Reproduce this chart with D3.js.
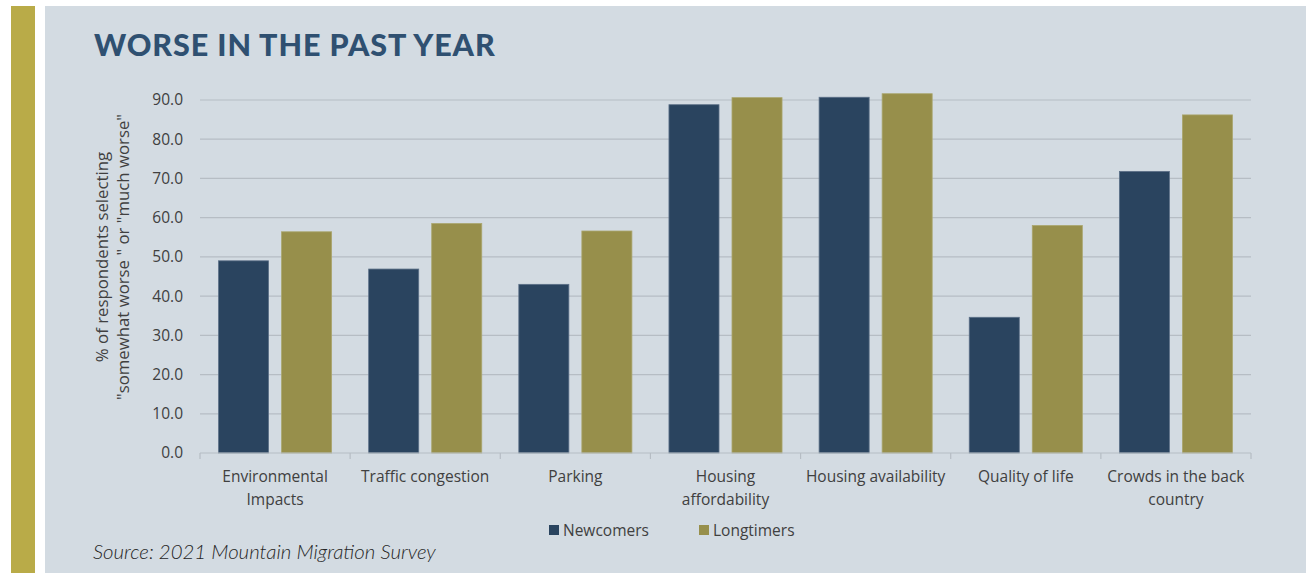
<!DOCTYPE html>
<html><head><meta charset="utf-8">
<script src="https://cdn.jsdelivr.net/npm/d3@7"></script>
<style>
html,body{margin:0;padding:0;background:#fff;}
svg{display:block;}
</style></head>
<body><svg id="chart" width="1306" height="573"></svg>
<script>
const categories = [["Environmental","Impacts"],["Traffic congestion"],["Parking"],["Housing","affordability"],["Housing availability"],["Quality of life"],["Crowds in the back","country"]];
const newcomers = [49.0, 46.9, 43.0, 88.8, 90.7, 34.6, 71.8];
const longtimers = [56.4, 58.5, 56.6, 90.6, 91.6, 58.0, 86.2];
const seriesNames = ["Newcomers","Longtimers"];
const yTicks = [0,10,20,30,40,50,60,70,80,90];
const colors = ["#2a445f","#978f4b"];

const svg = d3.select("#chart");
svg.append("rect").attr("x",11).attr("y",6).attr("width",24).attr("height",567).attr("fill","#b9ab48");
svg.append("rect").attr("x",45).attr("y",6).attr("width",1261).attr("height",567).attr("fill","#d3dbe2");

svg.append("text").attr("x",94).attr("y",56).text("WORSE IN THE PAST YEAR")
  .attr("font-family","Lato").attr("font-weight",900).attr("font-size",30.5).attr("fill","#2f5071").attr("letter-spacing","0.9");

const x0 = d3.scaleBand().domain(d3.range(categories.length)).range([200,1251]).paddingInner(0).paddingOuter(0);
const x1 = d3.scaleBand().domain([0,1]).range([0,x0.bandwidth()]).paddingInner(0.206).paddingOuter(0.294);
const y = d3.scaleLinear().domain([0,90]).range([453,100]);

// gridlines
svg.append("g").selectAll("line").data(yTicks.filter(d=>d>0)).join("line")
  .attr("x1",200).attr("x2",1251).attr("y1",d=>y(d)).attr("y2",d=>y(d))
  .attr("stroke","#b6bdc4").attr("stroke-width",1.2);

// y axis labels
const ya = svg.append("g").attr("transform","translate(200,0)")
  .call(d3.axisLeft(y).tickValues(yTicks).tickFormat(d3.format(".1f")).tickSize(0).tickPadding(17));
ya.select(".domain").remove();
ya.selectAll("text").attr("font-family","'Open Sans'").attr("font-size",15.5).attr("fill","#404040");

// bars
const data = [newcomers, longtimers];
const g = svg.append("g");
categories.forEach((c,i)=>{
  [0,1].forEach(s=>{
    g.append("rect").attr("x",x0(i)+x1(s)).attr("y",y(data[s][i]))
      .attr("width",x1.bandwidth()).attr("height",y(0)-y(data[s][i]))
      .attr("fill",colors[s]).attr("stroke",s===0?"#5c7088":"#aaa66e").attr("stroke-width",0.8);
  });
});

// x axis
const xa = svg.append("g").attr("transform","translate(0,453)");
xa.append("line").attr("x1",200).attr("x2",1251).attr("y1",0).attr("y2",0).attr("stroke","#b6bdc4").attr("stroke-width",1.2);
d3.range(categories.length+1).forEach(i=>{
  const xx = 200 + i*x0.bandwidth();
  xa.append("line").attr("x1",xx).attr("x2",xx).attr("y1",0).attr("y2",6).attr("stroke","#b6bdc4").attr("stroke-width",1.2);
});
categories.forEach((c,i)=>{
  const t = xa.append("text").attr("text-anchor","middle")
    .attr("font-family","'Open Sans'").attr("font-size",15.5).attr("fill","#404040");
  c.forEach((line,k)=>{
    t.append("tspan").attr("x",x0(i)+x0.bandwidth()/2).attr("y",29+k*22.5).text(line);
  });
});

// y axis title
const yt = svg.append("text").attr("transform","translate(108,257) rotate(-90)").attr("text-anchor","middle")
  .attr("font-family","'Open Sans'").attr("font-size",16.8).attr("fill","#404040");
yt.append("tspan").attr("x",0).attr("y",0).text("% of respondents selecting");
yt.append("tspan").attr("x",0).attr("y",21).text("\"somewhat worse \" or \"much worse\"");

// legend
const lx = [549, 699];
seriesNames.forEach((n,i)=>{
  svg.append("rect").attr("x",lx[i]).attr("y",525).attr("width",10).attr("height",10).attr("fill",colors[i]);
  svg.append("text").attr("x",lx[i]+14).attr("y",536).text(n)
    .attr("font-family","'Open Sans'").attr("font-size",15.5).attr("fill","#404040");
});

// source
svg.append("text").attr("x",93).attr("y",559).text("Source: 2021 Mountain Migration Survey")
  .attr("font-family","Lato").attr("font-style","italic").attr("font-weight",300).attr("font-size",20.4).attr("fill","#262626");
</script></body></html>
